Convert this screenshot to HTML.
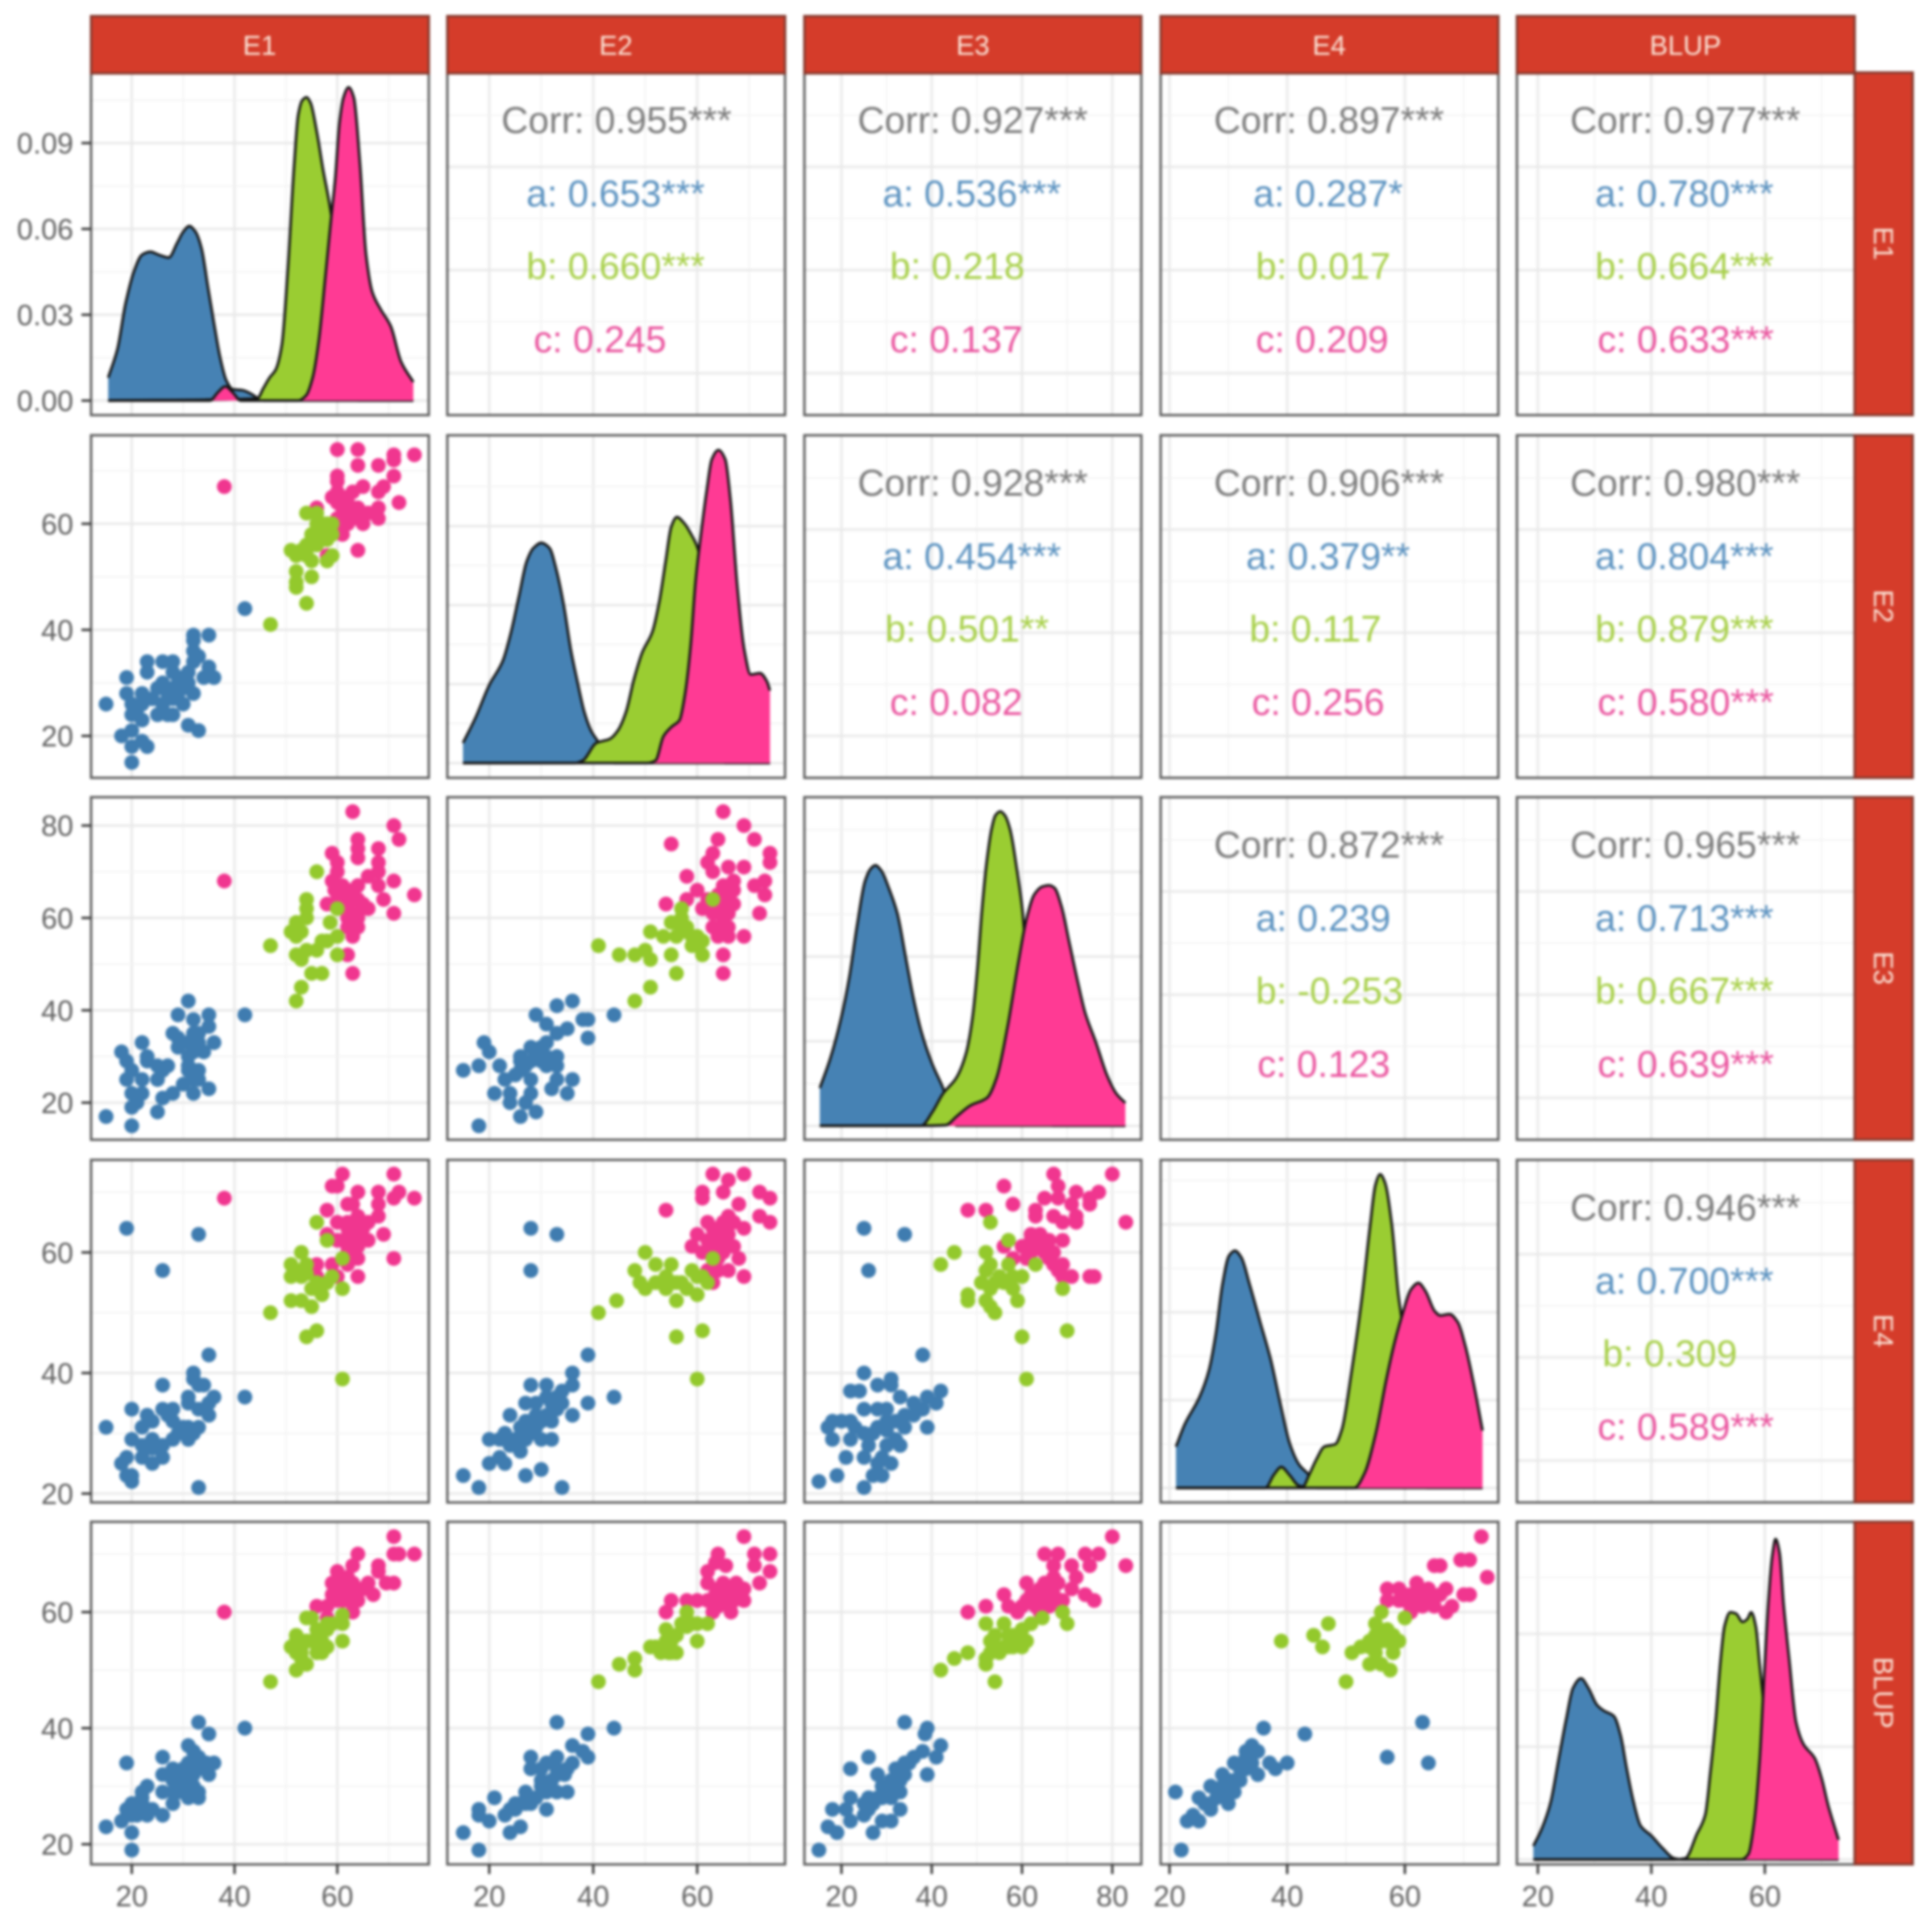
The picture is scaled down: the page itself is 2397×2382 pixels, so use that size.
<!DOCTYPE html>
<html lang="en">
<head>
<meta charset="utf-8">
<title>Correlation pair plot of E1, E2, E3, E4 and BLUP</title>
<style>
html,body{margin:0;padding:0;background:#fff;}
svg{display:block;filter:blur(1.5px);font-family:"Liberation Sans",sans-serif;}
.st{font-size:34px;fill:#fbe3d6;text-anchor:middle;}
.tk{font-size:36px;fill:#626262;}
.c{font-size:46.3px;}
.n{fill:#7d7d7d;}
.a{fill:#5b92c0;}
.b{fill:#a8d04a;}
.d{fill:#ea559f;}
.strip{fill:#d53c2a;stroke:#84392e;stroke-width:3;}
</style>
</head>
<body>
<svg id="chart" xmlns="http://www.w3.org/2000/svg" width="2397" height="2382" viewBox="0 0 2397 2382">
  <rect x="0" y="0" width="2397" height="2382" fill="#ffffff"/>
  <g id="panels"></g>
  <g>
    <rect class="strip" x="113" y="20" width="419" height="71"/>
    <rect class="strip" x="555" y="20" width="419" height="71"/>
    <rect class="strip" x="998" y="20" width="418" height="71"/>
    <rect class="strip" x="1440" y="20" width="419" height="71"/>
    <rect class="strip" x="1882" y="20" width="419" height="71"/>
    <text class="st" x="322" y="68">E1</text>
    <text class="st" x="764" y="68">E2</text>
    <text class="st" x="1207" y="68">E3</text>
    <text class="st" x="1649" y="68">E4</text>
    <text class="st" x="2091" y="68">BLUP</text>
  </g>
  <g>
    <rect class="strip" x="2301" y="90" width="72" height="425"/>
    <rect class="strip" x="2301" y="540" width="72" height="425"/>
    <rect class="strip" x="2301" y="989" width="72" height="425"/>
    <rect class="strip" x="2301" y="1439" width="72" height="425"/>
    <rect class="strip" x="2301" y="1888" width="72" height="425"/>
    <text class="st" transform="translate(2325,302) rotate(90)">E1</text>
    <text class="st" transform="translate(2325,752) rotate(90)">E2</text>
    <text class="st" transform="translate(2325,1201) rotate(90)">E3</text>
    <text class="st" transform="translate(2325,1651) rotate(90)">E4</text>
    <text class="st" transform="translate(2325,2100) rotate(90)">BLUP</text>
  </g>
  <g transform="translate(0,-1)">
    <text class="c n" x="622" y="166">Corr: 0.955***</text>
    <text class="c a" x="653" y="257">a: 0.653***</text>
    <text class="c b" x="653" y="347">b: 0.660***</text>
    <text class="c d" x="662" y="438">c: 0.245</text>

    <text class="c n" x="1064" y="166">Corr: 0.927***</text>
    <text class="c a" x="1095" y="257">a: 0.536***</text>
    <text class="c b" x="1104" y="347">b: 0.218</text>
    <text class="c d" x="1104" y="438">c: 0.137</text>

    <text class="c n" x="1506" y="166">Corr: 0.897***</text>
    <text class="c a" x="1555" y="257">a: 0.287*</text>
    <text class="c b" x="1558" y="347">b: 0.017</text>
    <text class="c d" x="1558" y="438">c: 0.209</text>

    <text class="c n" x="1948" y="166">Corr: 0.977***</text>
    <text class="c a" x="1979" y="257">a: 0.780***</text>
    <text class="c b" x="1979" y="347">b: 0.664***</text>
    <text class="c d" x="1982" y="438">c: 0.633***</text>

    <text class="c n" x="1064" y="616">Corr: 0.928***</text>
    <text class="c a" x="1095" y="707">a: 0.454***</text>
    <text class="c b" x="1098" y="797">b: 0.501**</text>
    <text class="c d" x="1104" y="888">c: 0.082</text>

    <text class="c n" x="1506" y="616">Corr: 0.906***</text>
    <text class="c a" x="1546" y="707">a: 0.379**</text>
    <text class="c b" x="1550" y="797">b: 0.117</text>
    <text class="c d" x="1553" y="888">c: 0.256</text>

    <text class="c n" x="1948" y="616">Corr: 0.980***</text>
    <text class="c a" x="1979" y="707">a: 0.804***</text>
    <text class="c b" x="1979" y="797">b: 0.879***</text>
    <text class="c d" x="1982" y="888">c: 0.580***</text>

    <text class="c n" x="1506" y="1065">Corr: 0.872***</text>
    <text class="c a" x="1558" y="1156">a: 0.239</text>
    <text class="c b" x="1558" y="1246">b: -0.253</text>
    <text class="c d" x="1560" y="1337">c: 0.123</text>

    <text class="c n" x="1948" y="1065">Corr: 0.965***</text>
    <text class="c a" x="1979" y="1156">a: 0.713***</text>
    <text class="c b" x="1979" y="1246">b: 0.667***</text>
    <text class="c d" x="1982" y="1337">c: 0.639***</text>

    <text class="c n" x="1948" y="1515">Corr: 0.946***</text>
    <text class="c a" x="1979" y="1606">a: 0.700***</text>
    <text class="c b" x="1988" y="1696">b: 0.309</text>
    <text class="c d" x="1982" y="1787">c: 0.589***</text>
  </g>
</svg>
<script>
// ---- variables and tick labels ----
const variables = ['E1', 'E2', 'E3', 'E4', 'BLUP'];
const xTicksE1 = [20, 40, 60];
const xTicksE2 = [20, 40, 60];
const xTicksE3 = [20, 40, 60, 80];
const xTicksE4 = [20, 40, 60];
const xTicksBlup = [20, 40, 60];
const yTicksE1Density = ['0.00', '0.03', '0.06', '0.09'];
const yTicksE2 = [20, 40, 60];
const yTicksE3 = [20, 40, 60, 80];
const yTicksE4 = [20, 40, 60];
const yTicksBlup = [20, 40, 60];

// ---- density curves: [value, density] ----
const densE1A = [[15.4,.008],[17.2,.018],[18.8,.034],[20.4,.045],[22,.051],[23.6,.052],[25.2,.051],[27.2,.05],[28.8,.055],[30,.059],[31.2,.061],[32.4,.059],[33.6,.053],[34.8,.04],[36,.027],[37.2,.015],[38.4,.007],[39.6,.004],[41.6,.0036],[43.2,.0024],[44.4,.001],[45.6,0]];
const densE1B = [[44.4,.0007],[45.6,.0043],[46.8,.008],[48,.0108],[49.2,.0194],[50.4,.0467],[51.6,.0826],[52.4,.0999],[53.2,.105],[54,.106],[54.8,.104],[56,.094],[57.2,.081],[58.8,.065],[60.4,.035],[62.4,.005],[64,0]];
const densE1C = [[35.2,0],[36.8,.003],[38.2,.005],[39.6,.003],[41.2,0],[52.4,0],[54,.002],[55.2,.008],[56.4,.021],[57.6,.042],[58.8,.064],[59.6,.078],[60.4,.097],[61.2,.106],[62.2,.1095],[63.2,.106],[64.4,.083],[65.6,.051],[66.8,.038],[68.4,.032],[70.4,.026],[72.4,.0136],[74.8,.0065]];

const densE2A = [[14.95,.00625],[17.4,.0142],[20,.0242],[22.6,.0317],[24.1,.04],[25.7,.0517],[27.2,.0625],[28.5,.0667],[30,.0683],[31.6,.0667],[32.9,.06],[34.4,.0483],[35.7,.035],[37,.025],[38.3,.0158],[39.6,.01],[40.9,.0067],[42.7,.0015],[44.2,0]];
const densE2B = [[36.5,0],[38,.0008],[40.6,.00625],[43.2,.0075],[44.7,.01],[46.3,.0158],[47.8,.0258],[49.4,.0342],[51.4,.0408],[52.7,.05],[54,.0633],[55,.0733],[56.1,.0763],[57.4,.0746],[58.9,.0708],[59.9,.0675],[60.6,.0633],[61.2,.05],[63.3,.02],[65.4,0]];
const densE2C = [[50.4,0],[52,.0008],[53.5,.0083],[55.1,.0113],[56.6,.0133],[57.6,.0208],[58.7,.0358],[59.7,.0567],[60.7,.0708],[61.8,.0842],[62.8,.0942],[64.1,.0971],[65.4,.0942],[66.4,.0817],[67.7,.055],[69,.0358],[70.3,.0275],[72.1,.0279],[73.4,.0254],[74,.0225]];

const densE3A = [[15.2,.0117],[17.5,.0208],[19.9,.0333],[21.7,.0458],[23.5,.0625],[25.2,.0758],[26.4,.0796],[27.5,.0808],[28.8,.0792],[30.6,.0733],[32.4,.0658],[34.2,.0525],[36,.0392],[37.7,.0292],[40.1,.0192],[42.5,.0117],[44.3,.0042],[45.5,0]];
const densE3B = [[37.7,0],[40.1,.0042],[42.5,.01],[45.5,.015],[47.6,.0225],[49,.0333],[50.2,.05],[51.1,.0667],[52.3,.0833],[53.2,.0917],[54.1,.0963],[55.2,.0975],[56.2,.0963],[57.4,.0917],[58.9,.0792],[60.1,.0667],[60.5,.06],[61.5,.0458],[63.3,.025],[65.1,.0083],[66.9,0]];
const densE3C = [[37.7,0],[43.1,.0002],[45.5,.0029],[48.5,.00625],[52.3,.00875],[54.4,.015],[56.8,.0308],[59.2,.0508],[61,.0642],[62.7,.0717],[64.5,.0742],[66,.0746],[67.2,.0738],[68.7,.0683],[70.5,.0567],[72.3,.045],[74,.035],[76.4,.0258],[78.8,.0158],[80.9,.01],[82.9,.0071]];

const densE4A = [[21.1,.0128],[22.6,.0198],[25.1,.0282],[26.7,.0365],[27.9,.0482],[29,.0632],[30.1,.072],[31.1,.0736],[32.2,.0715],[33.6,.0632],[35.4,.0515],[37.2,.0398],[39,.0248],[40.4,.014],[42,.0073],[43.7,.004],[45,0]];
const densE4B = [[36.3,0],[37.7,.004],[39,.0065],[40.4,.004],[42,.0007],[42.7,.0005],[43.7,.004],[45,.009],[46.3,.0128],[48.2,.0136],[49.3,.0182],[50.9,.0357],[52.7,.059],[54.1,.0815],[55,.094],[55.8,.0973],[56.6,.0948],[57.8,.0815],[58.9,.0598],[59.4,.0532],[60.3,.035],[61.4,.0182],[62.3,.0065],[63.7,0]];
const densE4C = [[51.4,0],[53.2,.0048],[55,.0165],[56.8,.0332],[58.2,.0448],[59.6,.054],[61,.0615],[62.3,.0636],[63.5,.0611],[65.1,.0548],[66,.0535],[67.6,.0539],[69,.0514],[70.3,.0439],[71.7,.0323],[73.2,.0178]];

const densBlupA = [[19.2,.0042],[20.7,.0096],[22.2,.0174],[23.7,.0314],[25,.0436],[26.2,.0532],[27.6,.0562],[28.9,.0532],[30.4,.048],[31.6,.0462],[33.4,.0445],[34.6,.0384],[35.6,.0288],[36.8,.0183],[38.1,.0105],[40,.0074],[42,.0035],[44,.0004],[45.5,0]];
const densBlupB = [[44,0],[46,.0004],[48,.0078],[49.5,.0139],[50.4,.027],[51.4,.0445],[52.2,.0619],[52.9,.0724],[53.9,.0767],[54.9,.0763],[56.1,.0737],[56.9,.0746],[57.6,.0767],[58.4,.0724],[59.1,.0602],[59.6,.0515],[60.6,.03],[61.6,.012],[62.6,0]];
const densBlupC = [[55.9,0],[57.1,.0017],[58.1,.0113],[59.1,.0314],[59.9,.0576],[60.6,.0794],[61.3,.0942],[61.9,.0994],[62.6,.0951],[63.3,.0794],[64.3,.062],[65.5,.0427],[66.8,.0358],[68.8,.0314],[70,.0253],[71.2,.0166],[73,.0061]];

// ---- scatter panels: [x value, y value] for groups a, b, c ----
const e2E1A = [[15,26],[20,15],[18,20],[20,21],[20,18],[23,18],[22,19],[22,23],[20,24],[20,26],[19,28],[19,31],[23,34],[23,32],[26,34],[28,34],[26,30],[25,29],[22,28],[24,27],[26,26],[25,24],[27,24],[28,24],[29,27],[29,29],[30,31],[32,28],[31,32],[32,34],[32,36],[33,35],[32,39],[32,38],[35,39],[35,33],[34,31],[36,31],[31,22],[33,21],[42,44],[28,32],[28,29],[27,28],[29,31],[30,29],[31,30],[27,27],[28,27],[22,26],[21,25],[30,26]];
const e2E1B = [[47,41],[54,45],[52,48],[52,51],[52,49],[55,50],[51,55],[52,54],[54,54],[55,53],[58,53],[59,54],[54,62],[56,62],[56,60],[55,58],[55,56],[57,58],[59,60],[59,58],[58,57],[56,58],[57,60],[58,60],[56,56],[53,55],[54,56]];
const e2E1C = [[38,67],[60,74],[64,74],[64,71],[68,71],[71,73],[71,72],[75,73],[71,69],[69,67],[68,66],[72,64],[60,69],[60,68],[60,66],[65,67],[63,66],[62,65],[59,65],[60,64],[62,63],[60,61],[63,61],[65,60],[66,62],[68,63],[68,61],[61,58],[64,55],[58,54],[56,63],[61,63],[61,65],[63,63],[62,61],[64,63],[65,62],[61,60],[62,60]];

const e3E1A = [[15,17],[20,15],[20,19],[25,18],[26,21],[28,22],[32,22],[35,23],[30,24],[20,22],[22,22],[19,25],[22,25],[25,25],[32,25],[33,27],[26,27],[20,27],[19,29],[23,29],[25,28],[27,28],[18,31],[23,30],[31,30],[31,27],[22,33],[29,32],[32,31],[34,31],[29,34],[33,33],[36,33],[28,35],[33,35],[35,36.5],[32,38],[35,39],[29,39],[31,42],[42,39],[21,20],[31,33],[32,35],[31,28],[33,25]];
const e3E1B = [[47,54],[56,70],[54,64],[54,62],[52,59],[52,58],[54,60],[52,56],[57,55],[60,56],[58.6,59],[60,62],[56,53],[54,53],[52,52],[53,51],[55,48],[57,48],[53,45],[52,42],[60,52],[51,57],[53,57],[58,55]];
const e3E1C = [[38,68],[63,83],[71,80],[72,77],[64,77],[64,75],[68,75],[59,74],[64,73],[60,72],[68,72],[68,70],[60,70],[66,69],[71,68],[59,68],[61,67],[64,67],[68,67],[59.5,66],[75,65],[62,65],[69,64],[58,63],[65,63],[66,62],[64,61],[71,61],[63,59],[64,58],[62,58],[63,56],[62,52],[63,48],[61,65],[62,66],[60,66],[61,63],[62,62],[63,64],[64,64],[60,64],[62,60],[64,60]];

const e3E2A = [[18,15],[15,27],[18,28],[21,22],[19,33],[20,31],[22,28],[23,25],[24,22],[24,20],[26,17],[29,18],[28,22],[27,20],[26,27],[28,25],[26,29],[28,32],[30,32],[31,33],[33,35],[35,36],[31,37],[29,39],[33,41],[36,42],[38,38],[39,38],[39,34],[44,39],[33,30],[33,28],[31,28],[33,25],[36,25],[32,23],[35,22],[30,29],[26,30],[27,28],[25,26],[28,29],[29,31],[30,31],[31,30]];
const e3E2B = [[41,54],[45,52],[48,52],[50,53],[51,51],[55,52],[56,48],[51,45],[48,42],[51,57],[53.5,56],[55,59],[57,62],[57,59],[57,57],[59,56],[60,54],[61,52],[61,55],[63,64],[57,60],[58,58],[56,56],[59,54],[60,56]];
const e3E2C = [[65,83],[69,80],[71,77],[74,74],[74,72],[55,76],[64,77],[63,74],[62,72],[66,71],[69,71],[63,70],[58,69],[73,68],[71,67],[73,65],[67,68],[67,66],[65,67],[60,66],[58,64],[67,63],[54,63],[61,62],[64,62],[72,61],[65,60],[63,58],[66,58],[69,56],[64,56],[66,56],[65,52],[65,48],[66,65],[66,63],[65,65],[64,65],[66,61],[65,62],[62,64],[63,61],[65,58]];

const e4E1A = [[19,64],[33,63],[26,57],[35,43],[32,40],[32,39],[26,38],[42,36],[33,38],[34,38],[36,36],[35,35],[31,36],[31,35],[33,34],[35,33],[20,34],[15,31],[33,31],[26,34],[28,34],[23,33],[22,31],[28,32],[31,31],[29,30],[31,29],[28,29],[20,29],[26,28],[23,28],[22,26],[24,27.5],[24,25],[26,26],[19,26],[18,25],[19,23],[20,22],[20,23],[33,21],[30,30],[30,31],[32,30],[22,28],[24,29],[24,32],[27,33]];
const e4E1B = [[56,65],[58,62],[61,59],[53,60],[51,58],[54,58],[51,56],[54,56.5],[55,54],[56,54],[59,56],[61,54],[57,53],[51,52],[53,52],[55,51],[47,50],[56,47],[54,46],[61,39],[56,55],[52,57],[53,56],[58,55]];
const e4E1C = [[38,69],[61,73],[71,73],[60,71],[59,71],[64,70],[68,70],[72,70],[71,69],[75,69],[63,68],[62,68],[68,68],[58,67],[68,66],[64,66],[60,65],[66,65],[62,64],[64,63],[69,63],[60,62],[62,62],[58,63],[66,62],[64,61],[62,60],[71,59],[64,59],[59,58],[56,58],[62,58],[56,56],[60,56],[64,56],[62,65],[63,64],[63,63],[65,64],[61,62],[62,61],[63,60],[64,64]];

const e4E2A = [[28,64],[33,63],[28,57],[15,23],[18,21],[34,21],[20,25],[23,25],[27,23],[30,24],[26,27],[20,29],[23,30],[28,30],[30,29],[22,26],[32,29],[27,35],[24,33],[28,38],[31,36],[33,34],[36,33],[32,32],[29,33],[34,37],[31,38],[36,38],[39,35],[44,36],[36,40],[39,43],[25,29],[26,31],[27,32],[29,31],[30,32],[31,33],[32,35],[34,35],[22,29],[24,28],[27,29],[29,35],[33,36]];
const e4E2B = [[41,50],[44.5,52],[48,57],[50,60],[52,55],[54,56],[56,52],[61,47],[56,46],[60,39],[50,54],[57,55],[60,53],[63,59],[62,55],[55,58],[52,58],[59,57],[61,56],[53,55],[54,54],[55,55],[56,55],[58,54],[60,56],[49,55]];
const e4E2C = [[54,67],[63,73],[69,73],[65,70],[72,70],[74,69],[61,70],[68,68],[72,66],[74,65],[62,65],[66,66],[69,64],[60,63],[63,62],[67,61],[59,61],[61,60],[64,59],[68,59],[62,57],[66,57],[69,56],[63,55],[61,69],[66,72],[63,64],[64,63],[65,63],[64,61],[65,60],[66,61],[62,62],[63,60],[64,57],[65,65],[66,63],[67,65]];

const e4E3A = [[25,64],[34,63],[26,57],[38,43],[25,40],[31,39],[31,38],[28,38],[22,37],[24,37],[42,37],[39,36],[33,36],[41,35],[25,34],[28,34],[38,34],[36,33],[34,33],[30,32],[32,32],[18,32],[20,32],[22,32],[39,31],[17,31],[23,31],[30,30.5],[34,31],[25,30],[18,29],[22,29],[32,29],[26,28],[33,28],[21,26],[25,26],[29,26],[31,25],[28,25],[19,23],[27,23],[29,23],[15,22],[25,21],[30,34],[36,35],[28,31],[27,30],[30,28]];
const e4E3B = [[53,65],[57,62],[45,60],[42,58],[52,60],[53,58],[52,57],[57,58],[63,58],[60,56],[58,56],[56,55],[51,55],[53,54],[58,54],[69,54],[48,53],[48,52],[52,52],[59,52],[53,51],[54,50],[70,47],[60,46],[61,39],[55,56],[57,55],[54,55]];
const e4E3C = [[80,73],[67,73],[56,71],[68,71],[77,70],[72,70],[65,69],[68,69],[75,69],[75,68],[71,68],[58,68],[48,67],[52,67],[63,67],[63,66],[67,66],[72,66],[69,65],[83,65],[72,65],[62,63],[64,63],[66,62],[69,62],[56,61],[60,61],[66,60],[62,60],[58,59],[61,59],[66,59],[69,58],[69,56],[71,56],[75,56],[76,56],[64,61],[65,60],[67,60],[63,61],[62,62],[67,58],[68,57]];

const blupE1A = [[15,23],[20,19],[20,22],[18,24],[19,34],[26,35],[33,41],[35,39],[42,40],[31,37],[32,36],[33,35],[36,34],[34.5,34],[35,32],[28,33],[26,32],[31,34],[30,32],[28,31],[31,31],[32,30],[33,29],[31,28],[33,28],[28,27],[26,29],[28,29],[23,30],[22,29],[22,28],[20,27],[24,26],[26,25],[23,25],[19,26],[20,25],[21,26],[29,31],[30,30],[29,29],[30,29],[31,32],[32,32],[33,33],[21,25],[22,27],[30,33]];
const blupE1B = [[47,48],[52,50],[54,51],[53,52],[51,54],[52,56],[53,54],[52,53],[56,53],[57,53],[58,54],[61,55],[55,55],[54,59],[56,57],[58,57],[61,58],[61,59.5],[59,58],[55,59],[52,55],[53,55],[53,53],[54,55],[57,55],[58,58]];
const blupE1C = [[38,60],[56,61],[71,73],[71,70],[72,70],[75,70],[64,70],[63,68],[68,68],[68,67],[60,67],[69.5,65],[71,65],[66,65],[62,66],[59,65],[67,63],[62,63],[60,64],[64,62],[59,63],[58,61],[63,60],[58,59],[61,62],[65,64],[61,65],[62,64],[63,65],[61,63],[62,62],[64,64],[60,62],[63,62]];

const blupE2A = [[15,22],[18,19],[18,26],[18,25],[20,24],[24,22],[26,23],[21,28],[23,25],[25,27],[27,29],[28,27],[31,26],[29,28],[35,29],[33,29],[30,31],[33,32],[34.5,32],[28,35],[28,33],[31,34],[33,35],[36,34],[35,33],[36,37],[39,35],[38,36],[39,39],[44,40],[33,41],[30,30],[31,29],[32,31],[33,33],[30,33],[25,26],[26,27],[27,27],[28,28],[24,26]];
const blupE2B = [[41,48],[45,51],[48,50],[48,52],[51,54],[52,54],[54,57],[54.5,53],[56,53],[54,54],[56,56],[58,60],[58,57.5],[60,55],[62,58],[60,58],[54,55],[55,55],[53,53],[55,53],[57,58],[59,58]];
const blupE2C = [[69,73],[64,70],[71,70],[74,70],[71,68],[65.5,68],[74,67],[63.5,68.5],[62,67],[62,65],[72,65],[65,65],[67.5,65],[69,64],[63.5,63],[69,62],[55,62],[54,60],[58,62],[60,62],[66.5,61.5],[64,61],[66.5,60],[63,60],[64,64],[65,63],[66,63],[67,63],[66,64],[65,62],[67,62],[62,62]];

const blupE3A = [[15,19],[17,23],[19,22],[18,26],[21,26],[22,24],[22,33],[26,35],[22,28],[25,25],[25,27],[27,22],[29,24],[31,24],[33,26],[28,28],[31,28],[33,29],[29,30],[28,32],[31,31],[32,33],[34,32],[36,35],[38,36],[39,32],[41,35],[42,37],[38.5,39],[39,40],[34,41],[30,30],[30,29],[32,30],[29,28],[27,27],[26,28],[26,26],[33,31],[34,34],[35,34]];
const blupE3B = [[42,50],[45,52],[48,53],[54,48],[52,51],[52,52],[53,53],[52,58],[56,58],[54,56],[57,54],[60,54],[61,55],[58,56],[60,57],[64.5,59],[62,58],[70,58],[69,60],[54,54],[56,54],[58,54],[59,55],[57,56],[55,53],[53,55]];
const blupE3C = [[80,73],[65,70],[68,70],[74,70],[77,70],[83,68],[71,68],[75,68],[67,68],[67,66],[72,66],[61,65],[65,65],[68,65],[71,64],[56,63],[74,63],[76,62],[52,61],[48,60],[57,61],[61,62],[64,62.5],[69,62],[59,60],[64,60],[66.5,64],[69,60],[66,62],[67,63],[64,64],[62,63],[60,61],[63,61],[66,61],[68,62]];

const blupE4A = [[21,29],[22,19],[23,24],[24,25],[27,26],[25,28],[30,27],[27,30],[31,29],[32,31],[34,34],[35,36],[36,40],[33,33],[37,34],[40,34],[38,33],[43,39],[35,32],[30,31],[25,24],[29,32],[31,34],[34,37],[63,41],[57,35],[64,34],[28,28],[29,30],[31,31],[33,35],[33,36],[32,33],[30,29],[27,27],[26,27]];
const blupE4B = [[39,55],[44.5,56],[47,58],[46,54],[50,48],[51,53],[52.5,54],[54,51],[55,58],[56,60],[57,57],[54,54],[58,53],[60,59],[59,55],[56,51],[57.5,50],[55,56],[56,55],[57,55],[58,56],[54,55],[55,53]];
const blupE4C = [[73,73],[71,69],[74,66],[66,68],[69.5,69],[64,64],[67,64],[70,63],[61,63],[57,62],[56,60],[59,62],[63,61],[65,61],[68,61],[61,60],[57,64],[59,64],[62,65],[65,68],[67,60],[71,63],[63,63],[60,62],[61,61],[62,62],[63,62],[64,62],[64,63],[66,63],[60,63]];

const densityPanels = [[densE1A,densE1B,densE1C],[densE2A,densE2B,densE2C],[densE3A,densE3B,densE3C],[densE4A,densE4B,densE4C],[densBlupA,densBlupB,densBlupC]];
const scatterPanels = {
  '1-0':[e2E1A,e2E1B,e2E1C],
  '2-0':[e3E1A,e3E1B,e3E1C],'2-1':[e3E2A,e3E2B,e3E2C],
  '3-0':[e4E1A,e4E1B,e4E1C],'3-1':[e4E2A,e4E2B,e4E2C],'3-2':[e4E3A,e4E3B,e4E3C],
  '4-0':[blupE1A,blupE1B,blupE1C],'4-1':[blupE2A,blupE2B,blupE2C],'4-2':[blupE3A,blupE3B,blupE3C],'4-3':[blupE4A,blupE4B,blupE4C]
};

// ---- layout and axis functions ----
const NS = 'http://www.w3.org/2000/svg';
const colEdges = [[113,532],[555,974],[998,1416],[1440,1859],[1882,2301]];
const rowEdges = [[90,515],[540,965],[989,1414],[1439,1864],[1888,2313]];
const xAxes = [
  {at20:163.5, perUnit:6.375, ticks:xTicksE1},
  {at20:607, perUnit:6.45, ticks:xTicksE2},
  {at20:1044, perUnit:5.6, ticks:xTicksE3},
  {at20:1451, perUnit:7.3, ticks:xTicksE4},
  {at20:1908, perUnit:7.04, ticks:xTicksBlup}
];
const yAxes = [
  null,
  {at20:913, perUnit:6.58, ticks:yTicksE2},
  {at20:1368, perUnit:5.73, ticks:yTicksE3},
  {at20:1853, perUnit:7.48, ticks:yTicksE4},
  {at20:2288, perUnit:7.2, ticks:yTicksBlup}
];
const densAxes = [
  {base:497, perUnit:3550, step:.03},
  {base:946.7, perUnit:4000, step:.0245},
  {base:1396.7, perUnit:4000, step:.02625},
  {base:1846, perUnit:4000, step:.02725},
  {base:2307, perUnit:4000, step:.035}
];
const groupFill = ['#4682b4', '#9acd32', '#ff3a94'];
const groupPoint = ['#3f7cb0', '#93c92c', '#f0368f'];
const groupNames = ['a', 'b', 'c'];
const textGridMajor = [117, 245, 373];
const textGridMinor = [53, 181, 309];

function xPos(c, v){ return xAxes[c].at20 + (v - 20) * xAxes[c].perUnit; }
function yPos(r, v){ return yAxes[r].at20 - (v - 20) * yAxes[r].perUnit; }
function densPos(c, d){ return densAxes[c].base - d * densAxes[c].perUnit; }

const root = document.getElementById('panels');
function make(parent, tag, props){
  const el = document.createElementNS(NS, tag);
  for (const k in props) el.setAttribute(k, props[k]);
  parent.appendChild(el);
  return el;
}
function gridLine(g, x1, y1, x2, y2, major){
  const ln = make(g, 'line', {x1:x1, y1:y1, x2:x2, y2:y2, stroke: major ? '#e9e9e9' : '#f3f3f3', 'stroke-width': major ? 3 : 1.8});
  
  
}
function monotonePath(pts){
  const n = pts.length, dx = [], s = [], m = [];
  for (let i = 0; i < n - 1; i++){
    dx[i] = Math.max(pts[i+1][0] - pts[i][0], .001);
    s[i] = (pts[i+1][1] - pts[i][1]) / dx[i];
  }
  m[0] = s[0]; m[n-1] = s[n-2];
  for (let i = 1; i < n - 1; i++){
    if (s[i-1] * s[i] <= 0) m[i] = 0;
    else {
      const w1 = 2 * dx[i] + dx[i-1], w2 = dx[i] + 2 * dx[i-1];
      m[i] = (w1 + w2) / (w1 / s[i-1] + w2 / s[i]);
    }
  }
  let d = 'M' + pts[0][0].toFixed(1) + ' ' + pts[0][1].toFixed(1);
  for (let i = 0; i < n - 1; i++){
    const h = dx[i] / 3;
    d += 'C' + (pts[i][0] + h).toFixed(1) + ' ' + (pts[i][1] + m[i] * h).toFixed(1) + ' ' +
         (pts[i+1][0] - h).toFixed(1) + ' ' + (pts[i+1][1] - m[i+1] * h).toFixed(1) + ' ' +
         pts[i+1][0].toFixed(1) + ' ' + pts[i+1][1].toFixed(1);
  }
  return d;
}
function xGrid(g, c, top, bottom){
  [20,40,60,80].forEach(function(v){
    const x = xPos(c, v);
    if (xAxes[c].ticks.indexOf(v) >= 0) gridLine(g, x, top, x, bottom, true);
  });
  [30,50,70].forEach(function(v){
    gridLine(g, xPos(c, v), top, xPos(c, v), bottom, false);
  });
}

rowEdges.forEach(function(rowE, r){
  colEdges.forEach(function(colE, c){
    const left = colE[0], right = colE[1], top = rowE[0], bottom = rowE[1];
    const panel = make(root, 'g', {});
    
    
    make(panel, 'rect', {x:left, y:top, width:right-left, height:bottom-top, fill:'#fff'});
    xGrid(panel, c, top, bottom);

    if (r < c){
      textGridMajor.forEach(function(o){ gridLine(panel, left, top + o, right, top + o, true); });
      textGridMinor.forEach(function(o){ gridLine(panel, left, top + o, right, top + o, false); });
    } else if (r > c){
      [20,40,60,80].forEach(function(v){
        if (yAxes[r].ticks.indexOf(v) >= 0) gridLine(panel, left, yPos(r, v), right, yPos(r, v), true);
      });
      [30,50,70].forEach(function(v){ gridLine(panel, left, yPos(r, v), right, yPos(r, v), false); });
      const sets = scatterPanels[r + '-' + c];
      [0,2,1].forEach(function(g){
        sets[g].forEach(function(p){
          const dot = make(panel, 'circle', {cx:xPos(c, p[0]).toFixed(1), cy:yPos(r, p[1]).toFixed(1), r:9.2, fill:groupPoint[g]});
          
          
        });
      });
    } else {
      const axis = densAxes[c];
      for (let k = 0; k < 8; k++){
        const dv = axis.step * k / 2;
        const py = densPos(c, dv);
        if (py > top) gridLine(panel, left, py, right, py, k % 2 === 0);
      }
      const curves = densityPanels[c];
      let lo = Infinity, hi = -Infinity;
      curves.forEach(function(cv){ lo = Math.min(lo, cv[0][0]); hi = Math.max(hi, cv[cv.length-1][0]); });
      curves.forEach(function(cv, g){
        const full = cv.slice();
        if (full[0][0] > lo) full.unshift([lo, 0]);
        if (full[full.length-1][0] < hi) full.push([hi, 0]);
        const pts = full.map(function(p){ return [xPos(c, p[0]), densPos(c, p[1])]; });
        const line = monotonePath(pts);
        const base = densPos(c, 0);
        const area = make(panel, 'path', {d: line + 'L' + pts[pts.length-1][0].toFixed(1) + ' ' + base + 'L' + pts[0][0].toFixed(1) + ' ' + base + 'Z', fill: groupFill[g]});
        
        
        const edge = make(panel, 'path', {d: line, fill:'none', stroke:'#141414', 'stroke-width':3.2, 'stroke-linejoin':'round'});
        
        
      });
    }

    const border = make(panel, 'rect', {x:left, y:top, width:right-left, height:bottom-top, fill:'none', stroke:'#5e5e5e', 'stroke-width':3});
    
    
  });

  // y axis for this row
  const yGroup = make(root, 'g', {});
  
  
  const labels = r === 0 ? yTicksE1Density : yAxes[r].ticks;
  labels.forEach(function(lab){
    const py = r === 0 ? densPos(0, parseFloat(lab)) : yPos(r, lab);
    const tick = make(yGroup, 'line', {x1:101, x2:113, y1:py, y2:py, stroke:'#3a3a3a', 'stroke-width':3});
    
    
    const tx = make(yGroup, 'text', {x:91, y:py + 13, 'text-anchor':'end', 'class':'tk'});
    tx.textContent = lab;
    
    
  });
});

// x axes along the bottom row
colEdges.forEach(function(colE, c){
  const xGroup = make(root, 'g', {});
  
  
  xAxes[c].ticks.forEach(function(v){
    const px = xPos(c, v);
    const tick = make(xGroup, 'line', {x1:px, x2:px, y1:2313, y2:2325, stroke:'#3a3a3a', 'stroke-width':3});
    
    
    const tx = make(xGroup, 'text', {x:px, y:2365, 'text-anchor':'middle', 'class':'tk'});
    tx.textContent = v;
    
    
  });
});
</script>
</body>
</html>
